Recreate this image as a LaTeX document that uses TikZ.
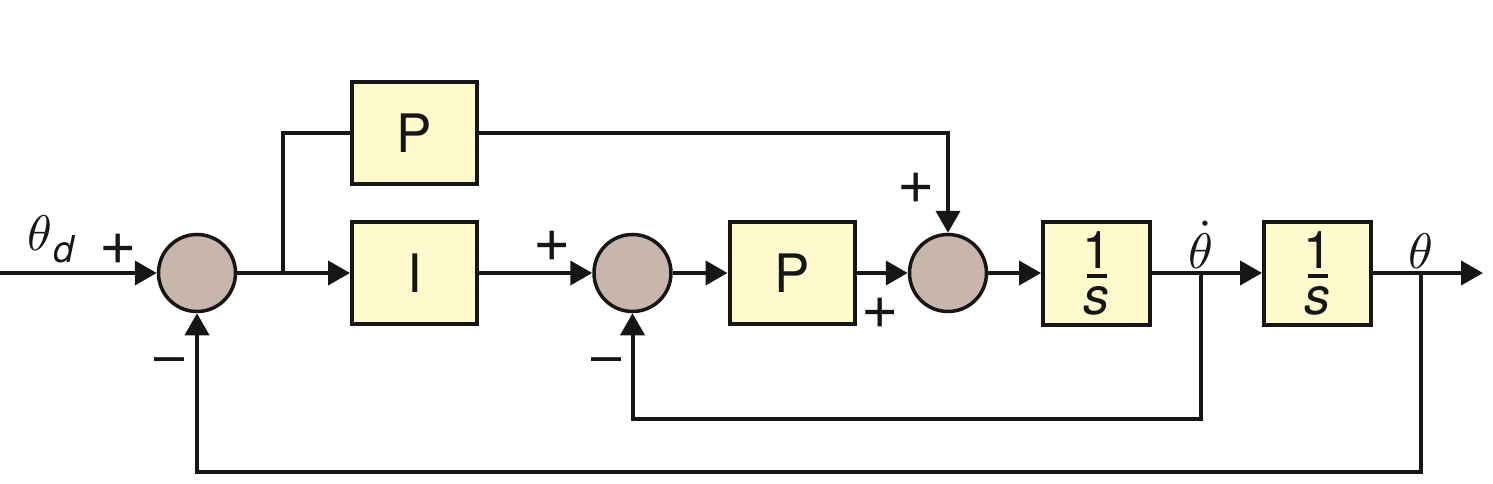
\documentclass[tikz,border=0pt]{standalone}
\usepackage{graphicx}
\usepackage{fontspec}
\setmainfont{TeX Gyre Heros}
\setsansfont{TeX Gyre Heros}
\usetikzlibrary{arrows.meta}
\definecolor{boxfill}{RGB}{255,250,205}
\definecolor{sumfill}{RGB}{200,182,172}
\definecolor{ink}{RGB}{22,22,22}
\newcommand{\invs}{\vbox{\offinterlineskip\hbox to 32pt{\hss 1\hss}\kern6pt\hbox to 32pt{\hss\rule{20pt}{4pt}\hss}\kern8pt\hbox to 32pt{\hss\itshape s\hss}}}
\newcommand{\mybigmath}[1]{\scalebox{5}{\normalsize$#1$}}
\begin{document}
\begin{tikzpicture}[x=1pt,y=-1pt,
  blk/.style={draw=ink, line width=4pt, fill=boxfill, minimum width=125pt, minimum height=102pt, inner sep=0pt, text=ink, font=\fontsize{53}{53}\selectfont},
  intbox/.style={blk, minimum width=107pt, minimum height=103pt, font=\fontsize{52}{52}\selectfont},
  sumc/.style={circle, draw=ink, line width=3.5pt, fill=sumfill, minimum size=77pt, inner sep=0pt},
  wire/.style={draw=ink, line width=4pt, line join=miter},
  arr/.style={wire, -{Triangle[length=22pt,width=24pt]}},
  sgn/.style={inner sep=0pt, text=ink, font=\fontsize{64}{64}\selectfont},
  neg/.style={inner sep=0pt, text=ink, font=\fontsize{54}{54}\selectfont},
  sym/.style={inner sep=0pt, text=ink}]
\useasboundingbox (0,0) rectangle (1493,484);
% nodes
\node[sumc] (s1) at (197,273) {};
\node[blk] (Pt) at (414.5,133) {P};
\node[blk] (I) at (414.5,273) {I};
\node[sumc] (s2) at (632.5,273) {};
\node[blk] (P2) at (792,273) {P};
\node[sumc] (s3) at (948,273) {};
\node[intbox] (S1) at (1096.5,273) {\invs};
\node[intbox] (S2) at (1317.5,273) {\invs};
% coordinates
\coordinate (in) at (0,273);
\coordinate (b1) at (283,273);
\coordinate (b2) at (1201,273);
\coordinate (l2) at (1201,419);
\coordinate (b3) at (1421,273);
\coordinate (l3) at (1421,472);
\coordinate (out) at (1483,273);
% connectors
\draw[arr] (in) -- (s1.west);
\draw[arr] (s1.east) -- (I.west);
\draw[wire] (b1) |- (Pt.west);
\draw[arr] (Pt.east) -| (s3.north);
\draw[arr] (I.east) -- (s2.west);
\draw[arr] (s2.east) -- (P2.west);
\draw[arr] (P2.east) -- (s3.west);
\draw[arr] (s3.east) -- (S1.west);
\draw[arr] (S1.east) -- (S2.west);
\draw[arr] (S2.east) -- (out);
\draw[arr] (b2) -- (l2) -| (s2.south);
\draw[arr] (b3) -- (l3) -| (s1.south);
% labels
\node[sym, anchor=base west] (thd) at (27,250) {\mybigmath{\theta}\kern1pt\raisebox{-12pt}{\fontsize{37}{37}\selectfont\itshape d}};
\node[sym, anchor=base] (thdot) at (1201,268) {\mybigmath{\dot\theta}};
\node[sym, anchor=base] (th) at (1421,268) {\mybigmath{\theta}};
\node[sgn] (p1) at (118,249) {+};
\node[neg, anchor=base] (m1) at (170,374) {–};
\node[sgn] (p2) at (552,246) {+};
\node[neg, anchor=base] (m2) at (607,374) {–};
\node[sgn] (p3) at (916,188) {+};
\node[sgn] (p4) at (880,313) {+};
\end{tikzpicture}
\end{document}
